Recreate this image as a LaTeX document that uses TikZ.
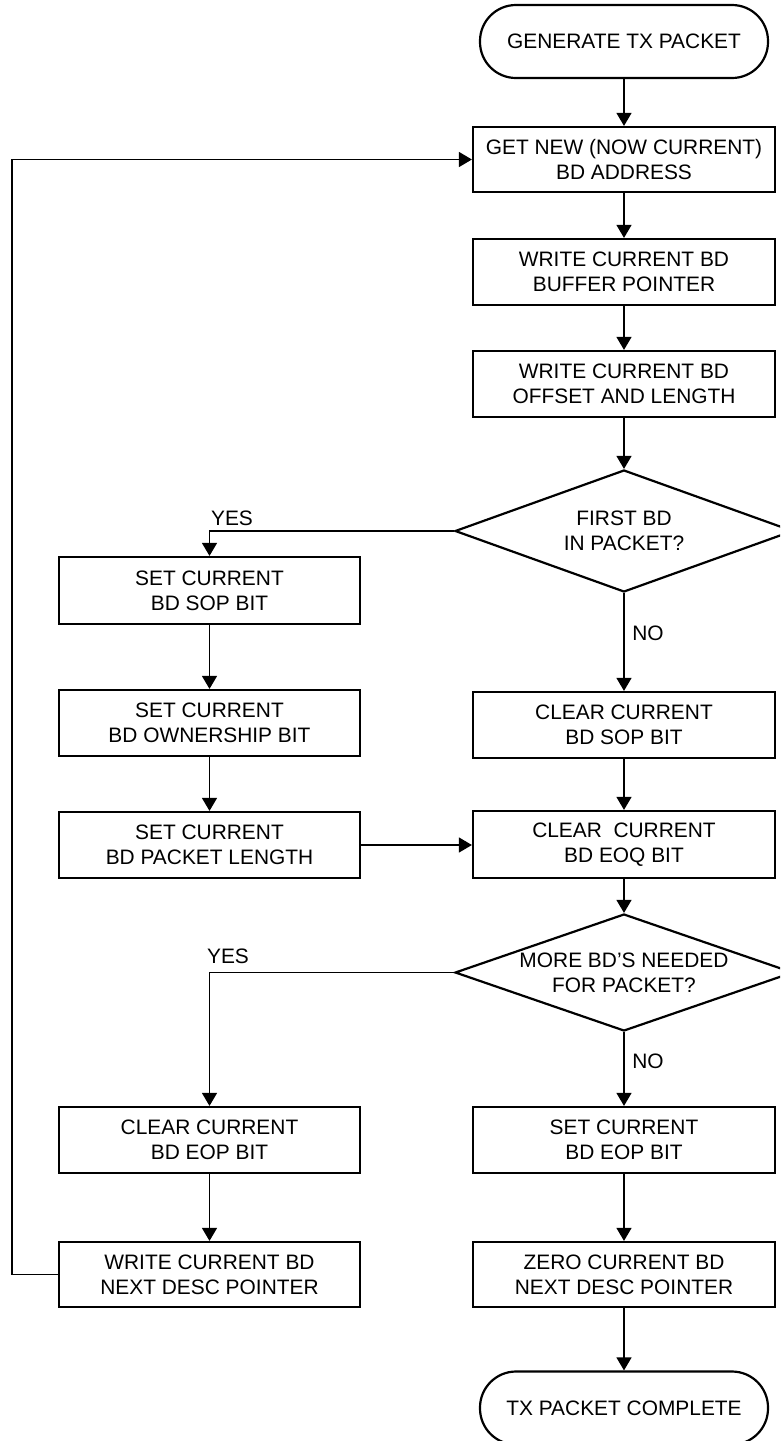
\documentclass[tikz,border=0pt]{standalone}
\usepackage{fontspec}
\setmainfont{Liberation Sans}[Ligatures=ResetAll]
\usetikzlibrary{arrows.meta,shapes.geometric}
\begin{document}
\begin{tikzpicture}[x=1pt,y=-1pt,
  every node/.style={font=\fontsize{20.9}{25}\selectfont, align=center, text=black},
  procbox/.style={draw, line width=2.2pt, rectangle, minimum width=302pt, minimum height=66pt, inner sep=0pt},
  termbox/.style={draw, line width=2.2pt, rectangle, rounded corners=36pt, minimum width=288pt, minimum height=73pt, inner sep=0pt},
  decbox/.style={draw, line width=2.2pt, diamond, minimum width=338pt, minimum height=120pt, inner sep=0pt},
  lbl/.style={inner sep=0pt},
  conn/.style={line width=1.3pt, -{Triangle[length=13pt,width=15pt]}},
  plain/.style={line width=1.3pt}
]
\useasboundingbox (0,0) rectangle (780,1441);
\clip (0,0) rectangle (780,1441);
% right column
\node[termbox] (start) at (624,41.5) {GENERATE TX PACKET};
\node[procbox, minimum height=65pt] (b1) at (624,159.5) {GET NEW (NOW CURRENT)\\BD ADDRESS};
\node[procbox] (b2) at (624,272) {WRITE CURRENT BD\\BUFFER POINTER};
\node[procbox] (b3) at (624,384) {WRITE CURRENT BD\\OFFSET AND LENGTH};
\node[decbox, minimum height=122pt] (d1) at (624,531) {};
\node[lbl] (d1t) at (624,531) {FIRST BD\\IN PACKET?};
\node[procbox] (c1) at (624,725) {CLEAR CURRENT\\BD SOP BIT};
\node[procbox, minimum height=67pt] (c2) at (624,844.5) {CLEAR\ \ CURRENT\\BD EOQ BIT};
\node[decbox, minimum height=117pt] (d2) at (624,972.5) {};
\node[lbl] (d2t) at (624,972.5) {MORE BD'S NEEDED\\FOR PACKET?};
\node[procbox] (r1) at (624,1140) {SET CURRENT\\BD EOP BIT};
\node[procbox, minimum height=65pt] (r2) at (624,1274.5) {ZERO CURRENT BD\\NEXT DESC POINTER};
\node[termbox] (end) at (624,1408) {TX PACKET COMPLETE};
% left column
\node[procbox, minimum width=301pt, minimum height=67pt] (l1) at (209.5,590.5) {SET CURRENT\\BD SOP BIT};
\node[procbox, minimum width=301pt] (l2) at (209.5,723) {SET CURRENT\\BD OWNERSHIP BIT};
\node[procbox, minimum width=301pt] (l3) at (209.5,845) {SET CURRENT\\BD PACKET LENGTH};
\node[procbox, minimum width=301pt] (l4) at (209.5,1140) {CLEAR CURRENT\\BD EOP BIT};
\node[procbox, minimum width=301pt, minimum height=65pt] (l5) at (209.5,1274.5) {WRITE CURRENT BD\\NEXT DESC POINTER};
% labels
\node[lbl] (yes1) at (232,518) {YES};
\node[lbl] (yes2) at (228,956) {YES};
\node[lbl] (no1) at (648,633) {NO};
\node[lbl] (no2) at (648,1061) {NO};
% connectors
\draw[conn] (start) -- (b1);
\draw[conn] (b1) -- (b2);
\draw[conn] (b2) -- (b3);
\draw[conn] (b3) -- (d1.north);
\draw[conn] (d1.south) -- (c1);
\draw[conn] (d1.west) -| (l1.north);
\draw[conn] (l1) -- (l2);
\draw[conn] (l2) -- (l3);
\draw[conn] (l3.east) -- (l3.east -| c2.west);
\draw[conn] (c1) -- (c2);
\draw[conn] (c2) -- (d2.north);
\draw[conn] (d2.west) -| (l4.north);
\draw[conn] (d2.south) -- (r1);
\draw[conn] (r1) -- (r2);
\draw[conn] (r2) -- (end);
\draw[conn] (l4) -- (l5);
\coordinate (lp) at (12,1274.5);
\draw[conn] (l5.west) -- (lp) |- (b1.west);
\end{tikzpicture}
\end{document}
